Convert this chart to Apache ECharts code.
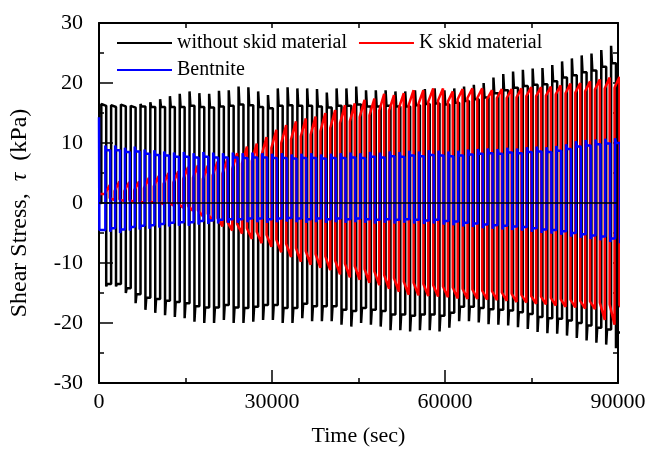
<!DOCTYPE html>
<html>
<head>
<meta charset="utf-8">
<script src="https://cdn.jsdelivr.net/npm/echarts@6/dist/echarts.min.js"></script>
<style>html,body{margin:0;padding:0;background:#fff}#c{width:651px;height:463px}</style>
</head>
<body>
<div id="c"></div>
<script>
// ---- data ----
const xTicks = [0, 30000, 60000, 90000];
const yTicks = [-30, -20, -10, 0, 10, 20, 30];
const seriesNames = ['without skid material', 'K skid material', 'Bentnite'];
const PERIOD = 1700;       // loading period (sec)
const SPIKE = 150;         // time for the overshoot to settle (sec)
const blackStartTime = 400;
const redStartTime = 1000;
const blueStartTime = 1100;
const blackLead = [[0, 0], [400, 0]];
const redLead = [[0, 1.5], [1000, 1.5]];
const blueLead = [[0, 14.3], [60, -4.5], [1100, -4.5]];

// without skid material: per-cycle spike and plateau levels (kPa)
const blackHiPeak = [16.5,16.3,16.4,16.2,16.5,16.8,17.3,17.8,18.2,18.6,18.3,18.2,18.7,18.8,19.4,19.3,18.6,18.0,19.1,19.3,19.1,19.1,19.0,18.4,19.1,19.1,19.4,18.8,18.8,18.8,18.6,18.6,18.8,19.0,19.1,18.8,19.1,19.4,19.7,20.0,20.9,21.5,21.9,22.2,22.4,22.5,23.0,23.6,24.1,24.6,24.9,25.5,26.2];
const blackHiBase = [16.2,16.0,16.1,15.9,16.1,16.0,16.0,16.0,16.0,16.2,16.0,15.9,16.1,16.2,16.4,16.3,16.0,15.8,16.2,16.3,16.2,16.2,16.1,15.9,16.2,16.2,16.4,16.1,16.1,16.2,16.1,16.1,16.3,16.5,16.6,16.4,16.7,17.0,17.3,17.6,18.3,18.8,19.2,19.5,19.7,19.8,20.3,20.9,21.3,21.8,22.1,22.7,23.3];
const blackLoPeak = [-13.9,-13.9,-15.0,-16.7,-17.8,-18.3,-18.7,-19.0,-19.2,-19.8,-20.0,-20.0,-19.5,-20.0,-20.0,-19.8,-19.5,-19.5,-20.0,-20.0,-19.2,-19.7,-19.7,-19.7,-20.3,-20.6,-20.0,-20.3,-20.6,-21.2,-21.2,-21.4,-21.2,-21.2,-21.4,-20.8,-19.7,-19.7,-19.9,-20.2,-20.3,-20.4,-20.7,-21.0,-21.5,-21.7,-21.8,-22.1,-22.5,-22.9,-23.3,-23.6,-24.2];
const blackLoBase = [-13.5,-13.5,-14.2,-15.2,-15.8,-16.0,-16.3,-16.5,-16.7,-17.2,-17.4,-17.4,-17.0,-17.4,-17.5,-17.3,-17.0,-17.0,-17.5,-17.5,-16.8,-17.2,-17.2,-17.2,-17.8,-18.0,-17.5,-17.8,-18.0,-18.6,-18.6,-18.8,-18.6,-18.6,-18.8,-18.3,-17.3,-17.3,-17.5,-17.7,-17.8,-17.9,-18.2,-18.5,-19.0,-19.2,-19.3,-19.6,-20.0,-20.4,-20.8,-21.1,-21.6];

// K skid material: per-cycle ramp start and end levels (kPa)
const redHiPeak = [3.0,3.6,3.5,3.6,4.2,4.5,5.0,5.3,6.0,6.3,6.2,6.9,7.3,8.3,9.4,9.9,11.0,12.2,13.0,13.6,14.1,14.4,15.0,15.5,16.3,16.6,17.2,17.4,18.2,18.0,18.3,18.8,18.8,19.1,19.1,18.6,19.0,19.1,19.1,18.8,19.0,19.0,19.1,19.3,19.3,19.4,19.6,19.9,20.0,20.3,20.6,20.9,21.0];
const redHiBase = [1.5,2.0,2.0,2.1,2.5,2.8,3.2,3.4,4.0,4.2,4.0,4.6,4.9,5.7,6.6,7.0,8.0,9.2,10.0,10.6,11.1,11.4,12.0,12.5,13.3,13.6,14.3,14.6,15.4,15.4,15.8,16.3,16.5,16.9,17.1,16.9,17.3,17.5,17.5,17.3,17.5,17.5,17.6,17.8,17.8,17.9,18.1,18.3,18.4,18.6,18.9,19.1,19.2];
const redLoPeak = [0.5,0.3,0.2,0.0,0.0,-0.2,-0.4,-0.8,-1.3,-2.2,-3.0,-3.9,-4.6,-5.1,-6.0,-6.7,-7.3,-8.2,-9.0,-9.8,-10.3,-10.8,-11.2,-11.9,-12.4,-12.8,-13.3,-13.7,-14.3,-14.8,-15.3,-15.4,-15.5,-15.6,-15.7,-15.9,-16.0,-16.0,-16.1,-16.2,-16.3,-16.5,-16.6,-16.8,-16.9,-17.1,-17.3,-17.4,-17.6,-17.7,-19.5,-20.3,-18.2];
const redLoBase = [0.8,0.6,0.5,0.3,0.3,0.2,0.1,-0.1,-0.5,-1.2,-1.8,-2.5,-3.1,-3.5,-4.2,-4.8,-5.3,-6.1,-6.8,-7.5,-8.0,-8.5,-8.9,-9.6,-10.1,-10.5,-11.0,-11.4,-12.0,-12.5,-13.1,-13.3,-13.5,-13.7,-13.9,-14.1,-14.3,-14.4,-14.6,-14.7,-14.9,-15.1,-15.3,-15.5,-15.6,-15.8,-16.0,-16.1,-16.3,-16.4,-16.6,-16.9,-17.0];

// Bentnite: per-cycle spike and plateau levels (kPa)
const blueHiPeak = [9.6,9.6,9.2,9.4,8.9,8.8,8.6,8.4,8.5,8.3,8.5,8.4,8.3,8.4,8.3,8.4,8.3,8.2,8.3,8.1,8.2,8.3,8.1,8.2,8.3,8.4,8.3,8.5,8.4,8.6,8.5,8.7,8.6,8.8,8.7,8.6,8.7,8.9,9.0,9.1,9.0,9.2,9.1,9.3,9.4,9.3,9.5,9.8,10.3,10.5,10.6,10.7,10.8];
const blueHiBase = [8.8,8.8,8.5,8.6,8.2,8.0,7.9,7.7,7.7,7.6,7.7,7.6,7.6,7.6,7.5,7.6,7.6,7.5,7.5,7.4,7.5,7.5,7.4,7.5,7.5,7.6,7.5,7.7,7.6,7.8,7.7,7.9,7.8,8.0,7.9,7.8,7.9,8.1,8.2,8.3,8.2,8.4,8.3,8.5,8.6,8.5,8.7,9.0,9.4,9.6,9.8,9.9,10.0];
const blueLoPeak = [-4.8,-5.0,-4.6,-4.4,-4.3,-4.1,-3.9,-3.8,-3.8,-3.6,-3.5,-3.4,-3.3,-3.3,-3.2,-3.2,-3.3,-3.2,-3.1,-3.2,-3.3,-3.2,-3.3,-3.2,-3.3,-3.2,-3.3,-3.4,-3.3,-3.4,-3.3,-3.4,-3.5,-3.4,-3.6,-3.7,-3.9,-4.0,-4.2,-4.3,-4.4,-4.5,-4.6,-4.8,-5.0,-5.1,-5.3,-5.6,-5.8,-6.0,-6.2,-6.5,-6.7];
const blueLoBase = [-4.2,-4.4,-4.0,-3.8,-3.7,-3.5,-3.3,-3.2,-3.2,-3.0,-2.9,-2.8,-2.7,-2.7,-2.6,-2.6,-2.7,-2.6,-2.5,-2.6,-2.7,-2.6,-2.7,-2.6,-2.7,-2.6,-2.7,-2.8,-2.7,-2.8,-2.7,-2.8,-2.9,-2.8,-3.0,-3.1,-3.3,-3.4,-3.6,-3.7,-3.8,-3.9,-4.0,-4.2,-4.4,-4.5,-4.7,-5.0,-5.2,-5.4,-5.6,-5.9,-6.1];

// ---- build the step tables from the per-cycle levels ----
function spikeTable(lead, t0, hiPk, hiBs, loPk, loBs) {
  const pts = lead.map(p => p.slice());
  for (let k = 0; k < hiPk.length; k++) {
    const a = t0 + k * PERIOD, h = a + PERIOD / 2, e = a + PERIOD;
    pts.push([a, hiPk[k]], [a + SPIKE, hiBs[k]], [h, hiBs[k]],
             [h, loPk[k]], [h + SPIKE, loBs[k]], [e, loBs[k]]);
  }
  return pts;
}
function rampTable(lead, t0, hiPk, hiBs, loPk, loBs) {
  const pts = lead.map(p => p.slice());
  for (let k = 0; k < hiPk.length; k++) {
    const a = t0 + k * PERIOD, h = a + PERIOD / 2, e = a + PERIOD;
    pts.push([a, hiBs[k]], [h, hiPk[k]], [h, loBs[k]], [e, loPk[k]]);
  }
  return pts;
}
const blackData = spikeTable(blackLead, blackStartTime, blackHiPeak, blackHiBase, blackLoPeak, blackLoBase);
const redData = rampTable(redLead, redStartTime, redHiPeak, redHiBase, redLoPeak, redLoBase);
const blueData = spikeTable(blueLead, blueStartTime, blueHiPeak, blueHiBase, blueLoPeak, blueLoBase);

const FONT = "'Liberation Serif', 'Times New Roman', serif";
const chart = echarts.init(document.getElementById('c'), null, {renderer: 'canvas'});
const legendText = {fontSize: 20, fontFamily: FONT, color: '#000'};
const LW = 2.5;
chart.setOption({
  animation: false,
  backgroundColor: '#fff',
  grid: {left: 99, right: 33, top: 23, bottom: 80, containLabel: false},
  legend: [
    {data: [seriesNames[0], seriesNames[1]], left: 117, top: 33, itemWidth: 55, itemHeight: 2, itemGap: 12,
     icon: 'rect', selectedMode: false, textStyle: legendText, padding: 0},
    {data: [seriesNames[2]], left: 117, top: 60, itemWidth: 55, itemHeight: 2,
     icon: 'rect', selectedMode: false, textStyle: legendText, padding: 0}
  ],
  xAxis: [
    {type: 'value', position: 'bottom', min: xTicks[0], max: xTicks[xTicks.length - 1], interval: xTicks[1] - xTicks[0],
     axisLine: {show: true, onZero: false, lineStyle: {color: '#000', width: 2}},
     axisTick: {show: true, inside: true, length: 13, lineStyle: {color: '#000', width: 1.5}},
     minorTick: {show: true, splitNumber: 2, length: 5, lineStyle: {color: '#000', width: 1.5}},
     splitLine: {show: false},
     axisLabel: {fontSize: 22, fontFamily: FONT, color: '#000', margin: 8, formatter: v => String(v)},
     name: 'Time (sec)', nameLocation: 'middle', nameGap: 42,
     nameTextStyle: {fontSize: 22, fontFamily: FONT, color: '#000'}},
    {type: 'value', position: 'top', min: xTicks[0], max: xTicks[xTicks.length - 1], interval: (xTicks[1] - xTicks[0]) / 2,
     axisLine: {show: true, onZero: false, lineStyle: {color: '#000', width: 2}},
     axisTick: {show: true, inside: true, length: 5, lineStyle: {color: '#000', width: 1.5}},
     splitLine: {show: false}, axisLabel: {show: false}}
  ],
  yAxis: [
    {type: 'value', position: 'left', min: yTicks[0], max: yTicks[yTicks.length - 1], interval: yTicks[1] - yTicks[0],
     axisLine: {show: true, onZero: false, lineStyle: {color: '#000', width: 2}},
     axisTick: {show: true, inside: true, length: 14, lineStyle: {color: '#000', width: 1.5}},
     minorTick: {show: true, splitNumber: 2, length: 5, lineStyle: {color: '#000', width: 1.5}},
     splitLine: {show: false},
     axisLabel: {fontSize: 22, fontFamily: FONT, color: '#000', margin: 16},
     name: 'Shear Stress,  {t|τ}  (kPa)', nameLocation: 'middle', nameGap: 67,
     nameTextStyle: {fontSize: 24, fontFamily: FONT, color: '#000', padding: [0, 20, 0, 0],
       rich: {t: {fontSize: 24, fontFamily: FONT, fontStyle: 'italic', color: '#000'}}}},
    {type: 'value', position: 'right', min: yTicks[0], max: yTicks[yTicks.length - 1], interval: (yTicks[1] - yTicks[0]) / 2,
     axisLine: {show: true, onZero: false, lineStyle: {color: '#000', width: 2}},
     axisTick: {show: true, inside: true, length: 5, lineStyle: {color: '#000', width: 1.5}},
     splitLine: {show: false}, axisLabel: {show: false}}
  ],
  series: [
    {name: seriesNames[0], type: 'line', data: blackData, color: '#000000', showSymbol: false, symbol: 'none',
     lineStyle: {color: '#000000', width: LW}, clip: true, z: 2},
    {name: seriesNames[1], type: 'line', data: redData, color: '#ff0000', showSymbol: false, symbol: 'none',
     lineStyle: {color: '#ff0000', width: LW}, clip: true, z: 3},
    {name: seriesNames[2], type: 'line', data: blueData, color: '#0000ff', showSymbol: false, symbol: 'none',
     lineStyle: {color: '#0000ff', width: LW}, clip: true, z: 4,
     markLine: {silent: true, symbol: 'none', label: {show: false},
       lineStyle: {color: '#000', width: 1.5, type: 'solid'}, data: [{yAxis: 0}]}}
  ]
});
</script>
</body>
</html>
